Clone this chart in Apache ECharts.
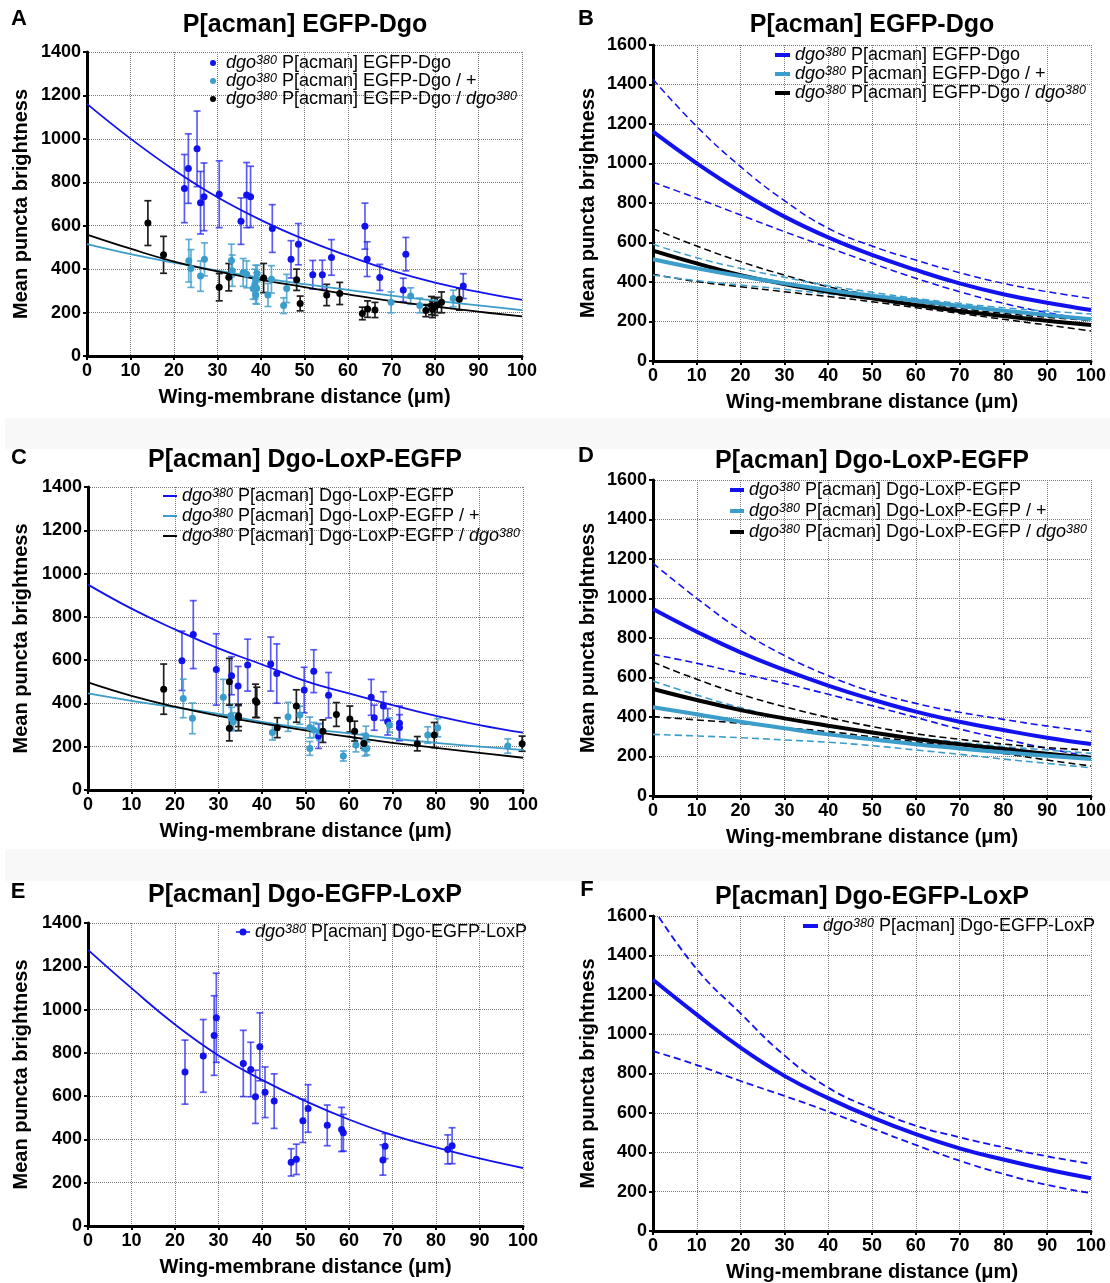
<!DOCTYPE html>
<html>
<head>
<meta charset="utf-8">
<title>Dgo puncta brightness vs wing-membrane distance</title>
<script src="https://cdn.jsdelivr.net/npm/echarts@6/dist/echarts.min.js"></script>
<style>
  html, body { margin: 0; padding: 0; background: #ffffff; }
  #chart { width: 1110px; height: 1283px; }
</style>
</head>
<body>
<div id="chart"></div>
<script>
// ---------- data ----------
// distances at which the fitted curves are sampled (also the x tick values)
const distanceTicks = [0, 10, 20, 30, 40, 50, 60, 70, 80, 90, 100];

// Measurements: [distance (µm), mean puncta brightness, error]
// P[acman] EGFP-Dgo
const egfpDgoPts = [
  [22.4, 771, 157], [23.3, 863, 160], [25.3, 954, 174], [26.1, 706, 144], [26.9, 733, 156],
  [30.4, 745, 154], [35.4, 621, 107], [36.7, 741, 150], [37.6, 733, 141], [42.6, 587, 110],
  [46.9, 445, 86], [48.6, 515, 95], [51.9, 374, 66], [54.1, 374, 67], [56.2, 454, 82],
  [63.9, 598, 106], [64.4, 446, 80], [67.3, 362, 60], [72.7, 304, 54], [73.3, 469, 77],
  [86.5, 322, 57]
];
const egfpDgoPlusPts = [
  [23.4, 439, 98], [23.9, 403, 87], [26.1, 368, 70], [27.0, 445, 76], [33.2, 440, 75],
  [33.4, 393, 72], [35.9, 385, 64], [36.7, 376, 62], [38.2, 311, 50], [38.6, 331, 69],
  [38.8, 353, 65], [38.8, 281, 40], [39.0, 311, 72], [39.1, 380, 38], [41.6, 281, 53],
  [42.4, 353, 63], [45.2, 232, 36], [45.9, 311, 65], [69.9, 247, 48], [74.4, 276, 38],
  [76.5, 233, 34], [84.2, 265, 38]
];
const egfpDgoDgoPts = [
  [14.0, 612, 103], [17.6, 466, 85], [30.4, 317, 63], [32.6, 363, 63], [40.6, 359, 67],
  [48.2, 351, 49], [49.0, 242, 34], [55.1, 281, 49], [58.1, 288, 51], [63.3, 196, 29],
  [64.5, 216, 38], [66.2, 212, 35], [77.9, 209, 28], [79.2, 232, 42], [79.4, 215, 38],
  [80.0, 227, 40], [80.5, 235, 35], [81.5, 247, 48], [85.6, 261, 50]
];

// P[acman] Dgo-LoxP-EGFP
const loxEgfpPts = [
  [21.6, 597, 137], [24.2, 718, 157], [29.5, 557, 165], [33.0, 528, 88], [34.5, 480, 91],
  [36.7, 577, 120], [42.0, 582, 125], [43.4, 538, 137], [49.7, 462, 105], [51.9, 549, 99],
  [53.0, 249, 57], [55.3, 438, 105], [65.1, 428, 83], [65.8, 334, 58], [67.9, 388, 66],
  [68.9, 315, 61], [71.6, 308, 80], [71.6, 289, 59]
];
const loxEgfpPlusPts = [
  [21.9, 423, 89], [24.0, 331, 71], [31.1, 428, 83], [32.8, 343, 54], [33.0, 331, 51],
  [33.4, 315, 42], [42.4, 266, 35], [46.0, 338, 67], [48.7, 346, 42], [51.0, 289, 48],
  [51.0, 192, 32], [51.9, 277, 35], [53.2, 269, 38], [58.7, 157, 23], [61.6, 208, 32],
  [63.5, 223, 38], [63.9, 249, 46], [63.7, 192, 35], [64.1, 192, 30], [69.3, 300, 33],
  [78.1, 254, 38], [80.4, 288, 42], [96.5, 203, 33]
];
const loxEgfpDgoPts = [
  [17.4, 466, 116], [32.5, 500, 108], [32.5, 285, 58], [34.6, 335, 61], [34.6, 343, 50],
  [38.5, 412, 77], [38.8, 405, 70], [43.5, 288, 46], [47.9, 388, 75], [54.0, 272, 52],
  [57.1, 349, 55], [60.2, 328, 60], [61.3, 272, 46], [63.4, 215, 22], [75.7, 214, 33],
  [79.6, 254, 58], [99.8, 214, 35]
];

// P[acman] Dgo-EGFP-LoxP
const egfpLoxPts = [
  [22.3, 711, 148], [26.5, 786, 168], [29.0, 880, 184], [29.5, 962, 206], [35.7, 751, 153],
  [37.4, 723, 126], [38.5, 597, 123], [39.5, 828, 157], [40.7, 618, 117], [42.8, 577, 126],
  [46.7, 294, 63], [47.9, 308, 70], [49.4, 486, 100], [50.6, 543, 110], [55.0, 465, 94],
  [58.3, 446, 102], [58.7, 431, 85], [67.8, 305, 70], [68.3, 369, 58], [82.7, 354, 67],
  [83.7, 371, 83]
];

// Exponential fits and 95% bands, sampled at distanceTicks
const egfpDgoFit      = [1161, 1001, 857, 731, 626, 537, 461, 393, 338, 295, 258];
const egfpDgoFitHi    = [1426, 1187, 984, 812, 672, 582, 511, 447, 393, 351, 317];
const egfpDgoFitLo    = [905, 824, 739, 655, 575, 495, 419, 351, 292, 245, 208];
const egfpDgoPlusFit   = [515, 469, 430, 393, 360, 331, 305, 278, 255, 233, 211];
const egfpDgoPlusFitHi = [591, 523, 469, 424, 381, 348, 317, 292, 270, 253, 238];
const egfpDgoPlusFitLo = [435, 407, 385, 363, 339, 312, 287, 258, 233, 208, 177];
const egfpDgoDgoFit    = [559, 494, 435, 390, 351, 317, 284, 253, 228, 204, 182];
const egfpDgoDgoFitHi  = [670, 582, 503, 435, 376, 334, 300, 267, 241, 221, 205];
const egfpDgoDgoFitLo  = [439, 402, 376, 351, 326, 300, 270, 241, 211, 182, 152];

const loxEgfpFitC     = [949, 838, 742, 654, 580, 503, 446, 392, 342, 300, 265];
const loxEgfpPlusFitC = [446, 412, 382, 352, 315, 285, 262, 238, 218, 200, 185];
const loxEgfpDgoFitC  = [497, 435, 385, 343, 308, 275, 246, 218, 195, 172, 149];

const loxEgfpFit      = [947, 832, 727, 638, 559, 489, 427, 376, 334, 295, 263];
const loxEgfpFitHi    = [1178, 1001, 840, 711, 609, 528, 469, 424, 388, 354, 326];
const loxEgfpFitLo    = [717, 672, 621, 570, 515, 457, 398, 339, 289, 241, 199];
const loxEgfpPlusFit   = [449, 414, 376, 343, 312, 287, 262, 241, 221, 204, 187];
const loxEgfpPlusFitHi = [582, 511, 447, 393, 351, 321, 295, 272, 250, 233, 216];
const loxEgfpPlusFitLo = [312, 304, 295, 284, 272, 255, 233, 211, 187, 165, 143];
const loxEgfpDgoFit    = [542, 486, 435, 393, 356, 322, 289, 262, 238, 214, 194];
const loxEgfpDgoFitHi  = [677, 591, 515, 452, 398, 352, 315, 287, 263, 245, 232];
const loxEgfpDgoFitLo  = [402, 385, 368, 346, 326, 300, 275, 245, 216, 182, 152];

const egfpLoxFit   = [1276, 1099, 931, 788, 675, 577, 492, 420, 363, 312, 268];
const egfpLoxFitHi = [1640, 1330, 1105, 892, 728, 622, 535, 476, 425, 379, 341];
const egfpLoxFitLo = [914, 843, 762, 686, 607, 521, 437, 357, 290, 234, 192];

// Text
const panelTitles = ['P[acman] EGFP-Dgo', 'P[acman] EGFP-Dgo', 'P[acman] Dgo-LoxP-EGFP',
                     'P[acman] Dgo-LoxP-EGFP', 'P[acman] Dgo-EGFP-LoxP', 'P[acman] Dgo-EGFP-LoxP'];
const panelLetters = ['A', 'B', 'C', 'D', 'E', 'F'];
const xTitle = 'Wing-membrane distance (\u03bcm)';
const yTitle = 'Mean puncta brightness';
const DGO = '{i|dgo}{s|380}';
const genoEgfpDgo = [DGO + ' P[acman] EGFP-Dgo', DGO + ' P[acman] EGFP-Dgo / +', DGO + ' P[acman] EGFP-Dgo / ' + DGO];
const genoLoxEgfp = [DGO + ' P[acman] Dgo-LoxP-EGFP', DGO + ' P[acman] Dgo-LoxP-EGFP / +', DGO + ' P[acman] Dgo-LoxP-EGFP / ' + DGO];
const genoEgfpLox = [DGO + ' P[acman] Dgo-EGFP-LoxP'];

// ---------- styling & layout ----------
const FONT = "'Liberation Sans', Arial, Helvetica, sans-serif";
const BLUE = '#1212ef';
const CYAN = '#3b9dca';
const BLACK = '#000000';
const BAR_BLUE = 'rgba(30,30,240,0.72)';
const BAR_CYAN = 'rgba(70,160,205,0.85)';
const BAR_BLACK = '#1e1e1e';

const layout = [
  { grid: { left: 87,  top: 52,  width: 435, height: 304 }, ymax: 1400, yGap: 56, title: [305, 25], letter: [19, 19] },
  { grid: { left: 653, top: 45,  width: 438, height: 316 }, ymax: 1600, yGap: 55, title: [872, 25], letter: [586, 19] },
  { grid: { left: 88,  top: 487, width: 435, height: 303 }, ymax: 1400, yGap: 57, title: [305, 460], letter: [19, 458] },
  { grid: { left: 653, top: 480, width: 438, height: 316 }, ymax: 1600, yGap: 55, title: [872, 461], letter: [586, 456] },
  { grid: { left: 88,  top: 923, width: 435, height: 303 }, ymax: 1400, yGap: 57, title: [305, 895], letter: [18, 892] },
  { grid: { left: 653, top: 916, width: 438, height: 316 }, ymax: 1600, yGap: 55, title: [872, 897], letter: [587, 890] }
];

const axisLabelStyle = { color: '#000', fontWeight: 'bold', fontSize: 18, fontFamily: FONT };
const axisNameStyle = { color: '#000', fontWeight: 'bold', fontSize: 20, fontFamily: FONT };
const gridLine = { show: true, lineStyle: { type: 'dotted', color: '#7a7a7a', width: 1 } };
const plainNumber = v => String(v);

const xAxes = layout.map((p, i) => ({
  type: 'value', gridIndex: i, min: 0, max: 100, interval: 10,
  axisLine: { show: true, onZero: false, lineStyle: { color: '#000', width: 3 } },
  axisTick: { show: true, length: 4, lineStyle: { color: '#000', width: 2 } },
  axisLabel: Object.assign({ margin: 6, formatter: plainNumber }, axisLabelStyle),
  splitLine: gridLine,
  name: xTitle, nameLocation: 'middle', nameGap: 31, nameTextStyle: axisNameStyle
}));
const yAxes = layout.map((p, i) => ({
  type: 'value', gridIndex: i, min: 0, max: p.ymax, interval: 200,
  axisLine: { show: true, onZero: false, lineStyle: { color: '#000', width: 3 } },
  axisTick: { show: true, length: 4, lineStyle: { color: '#000', width: 2 } },
  axisLabel: Object.assign({ margin: 6, formatter: plainNumber }, axisLabelStyle),
  splitLine: gridLine,
  name: yTitle, nameLocation: 'middle', nameGap: p.yGap, nameTextStyle: axisNameStyle
}));

// ---------- series builders ----------
function errorBars(i, pts, color) {
  return {
    type: 'custom', xAxisIndex: i, yAxisIndex: i, data: pts, silent: true, z: 2,
    encode: { x: 0, y: 1 },
    renderItem: function (params, api) {
      const x = api.value(0), y = api.value(1), e = api.value(2);
      const top = api.coord([x, y + e]);
      const bot = api.coord([x, y - e]);
      const cap = 3.5;
      const style = { stroke: color, lineWidth: 1.7, fill: null };
      return {
        type: 'group',
        children: [
          { type: 'line', shape: { x1: top[0], y1: top[1], x2: bot[0], y2: bot[1] }, style: style },
          { type: 'line', shape: { x1: top[0] - cap, y1: top[1], x2: top[0] + cap, y2: top[1] }, style: style },
          { type: 'line', shape: { x1: bot[0] - cap, y1: bot[1], x2: bot[0] + cap, y2: bot[1] }, style: style }
        ]
      };
    }
  };
}
function points(i, name, pts, color) {
  return {
    type: 'scatter', name: name, xAxisIndex: i, yAxisIndex: i, data: pts,
    symbol: 'circle', symbolSize: 7, itemStyle: { color: color, opacity: 1 }, z: 3
  };
}
function curve(i, name, values, color, width, dashed) {
  return {
    type: 'line', name: name, xAxisIndex: i, yAxisIndex: i,
    data: distanceTicks.map((d, k) => [d, values[k]]),
    smooth: 0.45, symbol: 'none', showSymbol: false, clip: true, silent: true,
    lineStyle: { color: color, width: width, type: dashed ? [7, 4] : 'solid', cap: 'butt' },
    itemStyle: { color: color }, z: dashed ? 1 : 2
  };
}

const series = [];
// A
series.push(curve(0, 'fitA1', egfpDgoFit, BLUE, 1.8));
series.push(curve(0, 'fitA2', egfpDgoPlusFit, CYAN, 1.8));
series.push(curve(0, 'fitA3', egfpDgoDgoFit, BLACK, 1.8));
series.push(errorBars(0, egfpDgoPts, BAR_BLUE), points(0, 'A1', egfpDgoPts, BLUE));
series.push(errorBars(0, egfpDgoPlusPts, BAR_CYAN), points(0, 'A2', egfpDgoPlusPts, CYAN));
series.push(errorBars(0, egfpDgoDgoPts, BAR_BLACK), points(0, 'A3', egfpDgoDgoPts, BLACK));
// B
series.push(curve(1, 'bandB1hi', egfpDgoFitHi, BLUE, 1.5, true), curve(1, 'bandB1lo', egfpDgoFitLo, BLUE, 1.5, true));
series.push(curve(1, 'bandB3hi', egfpDgoDgoFitHi, BLACK, 1.5, true), curve(1, 'bandB3lo', egfpDgoDgoFitLo, BLACK, 1.5, true));
series.push(curve(1, 'bandB2hi', egfpDgoPlusFitHi, CYAN, 1.5, true), curve(1, 'bandB2lo', egfpDgoPlusFitLo, CYAN, 1.5, true));
series.push(curve(1, 'B3', egfpDgoDgoFit, BLACK, 4));
series.push(curve(1, 'B2', egfpDgoPlusFit, CYAN, 4));
series.push(curve(1, 'B1', egfpDgoFit, BLUE, 4));
// C
series.push(curve(2, 'C1', loxEgfpFitC, BLUE, 1.8));
series.push(curve(2, 'C2', loxEgfpPlusFitC, CYAN, 1.8));
series.push(curve(2, 'C3', loxEgfpDgoFitC, BLACK, 1.8));
series.push(errorBars(2, loxEgfpPts, BAR_BLUE), points(2, 'ptsC1', loxEgfpPts, BLUE));
series.push(errorBars(2, loxEgfpPlusPts, BAR_CYAN), points(2, 'ptsC2', loxEgfpPlusPts, CYAN));
series.push(errorBars(2, loxEgfpDgoPts, BAR_BLACK), points(2, 'ptsC3', loxEgfpDgoPts, BLACK));
// D
series.push(curve(3, 'bandD1hi', loxEgfpFitHi, BLUE, 1.6, true), curve(3, 'bandD1lo', loxEgfpFitLo, BLUE, 1.6, true));
series.push(curve(3, 'bandD3hi', loxEgfpDgoFitHi, BLACK, 1.6, true), curve(3, 'bandD3lo', loxEgfpDgoFitLo, BLACK, 1.6, true));
series.push(curve(3, 'bandD2hi', loxEgfpPlusFitHi, CYAN, 1.6, true), curve(3, 'bandD2lo', loxEgfpPlusFitLo, CYAN, 1.6, true));
series.push(curve(3, 'D3', loxEgfpDgoFit, BLACK, 4));
series.push(curve(3, 'D2', loxEgfpPlusFit, CYAN, 4));
series.push(curve(3, 'D1', loxEgfpFit, BLUE, 4));
// E
series.push(curve(4, 'fitE1', egfpLoxFit, BLUE, 1.8));
series.push(errorBars(4, egfpLoxPts, BAR_BLUE), points(4, 'E1', egfpLoxPts, BLUE));
// F
series.push(curve(5, 'bandF1hi', egfpLoxFitHi, BLUE, 1.8, true), curve(5, 'bandF1lo', egfpLoxFitLo, BLUE, 1.8, true));
series.push(curve(5, 'F1', egfpLoxFit, BLUE, 4));

// ---------- legends ----------
const legendText = {
  A1: '{g| }' + genoEgfpDgo[0], A2: '{g| }' + genoEgfpDgo[1], A3: '{g| }' + genoEgfpDgo[2],
  B1: genoEgfpDgo[0], B2: genoEgfpDgo[1], B3: genoEgfpDgo[2],
  C1: genoLoxEgfp[0], C2: genoLoxEgfp[1], C3: genoLoxEgfp[2],
  D1: genoLoxEgfp[0], D2: genoLoxEgfp[1], D3: genoLoxEgfp[2],
  E1: genoEgfpLox[0], F1: genoEgfpLox[0]
};
function legendTextStyle(lh) {
  return {
    fontFamily: FONT, fontSize: 18, color: '#000', lineHeight: lh,
    rich: {
      g: { width: 5, fontSize: 18, lineHeight: lh },
      i: { fontFamily: FONT, fontSize: 18, fontStyle: 'italic', color: '#000', lineHeight: lh },
      s: { fontFamily: FONT, fontSize: 12.5, fontStyle: 'italic', color: '#000', verticalAlign: 'top' }
    }
  };
}
function legend(names, left, top, iw, ih, icon, lh, gap) {
  return {
    orient: 'vertical', left: left, top: top, padding: 0, itemGap: gap,
    itemWidth: iw, itemHeight: ih, icon: icon, selectedMode: false,
    data: names, formatter: n => legendText[n],
    textStyle: legendTextStyle(lh)
  };
}
// line-with-dot marker: two short line pieces either side of a solid dot
const lineDotIcon = 'path://M0,2.7H3.6V4.3H0Z M10.4,2.7H14V4.3H10.4Z M3.5,3.5A3.5,3.5 0 1 1 10.5,3.5A3.5,3.5 0 1 1 3.5,3.5Z';
const legends = [
  legend(['A1', 'A2', 'A3'], 210, 54, 6, 6, 'circle', 18, 0),
  legend(['B1', 'B2', 'B3'], 775, 46, 15, 4, 'rect', 18, 1),
  legend(['C1', 'C2', 'C3'], 163, 487, 14, 2, 'rect', 18, 2),
  legend(['D1', 'D2', 'D3'], 730, 481, 14, 4, 'rect', 18, 3),
  legend(['E1'], 236, 923, 14, 7, lineDotIcon, 18, 0),
  legend(['F1'], 803, 917, 15, 4, 'rect', 18, 0)
];

// ---------- titles, panel letters, row separators ----------
const graphics = [
  { type: 'rect', shape: { x: 5, y: 418, width: 1105, height: 31 }, style: { fill: '#f8f8f8' }, z: -10, silent: true },
  { type: 'rect', shape: { x: 5, y: 849, width: 1105, height: 32 }, style: { fill: '#f8f8f8' }, z: -10, silent: true }
];
layout.forEach((p, i) => {
  graphics.push({
    type: 'text', x: p.title[0], y: p.title[1], silent: true,
    style: { text: panelTitles[i], fill: '#000', fontFamily: FONT, fontWeight: 'bold', fontSize: 25,
             align: 'center', verticalAlign: 'middle', textAlign: 'center', textVerticalAlign: 'middle' }
  });
  graphics.push({
    type: 'text', x: p.letter[0], y: p.letter[1], silent: true,
    style: { text: panelLetters[i], fill: '#000', fontFamily: FONT, fontWeight: 'bold', fontSize: 22,
             align: 'center', verticalAlign: 'middle', textAlign: 'center', textVerticalAlign: 'middle' }
  });
});

const chart = echarts.init(document.getElementById('chart'), null, { renderer: 'canvas' });
chart.setOption({
  backgroundColor: '#ffffff',
  animation: false,
  grid: layout.map(p => Object.assign({ containLabel: false }, p.grid)),
  xAxis: xAxes,
  yAxis: yAxes,
  legend: legends,
  series: series,
  graphic: graphics
});
</script>
</body>
</html>
